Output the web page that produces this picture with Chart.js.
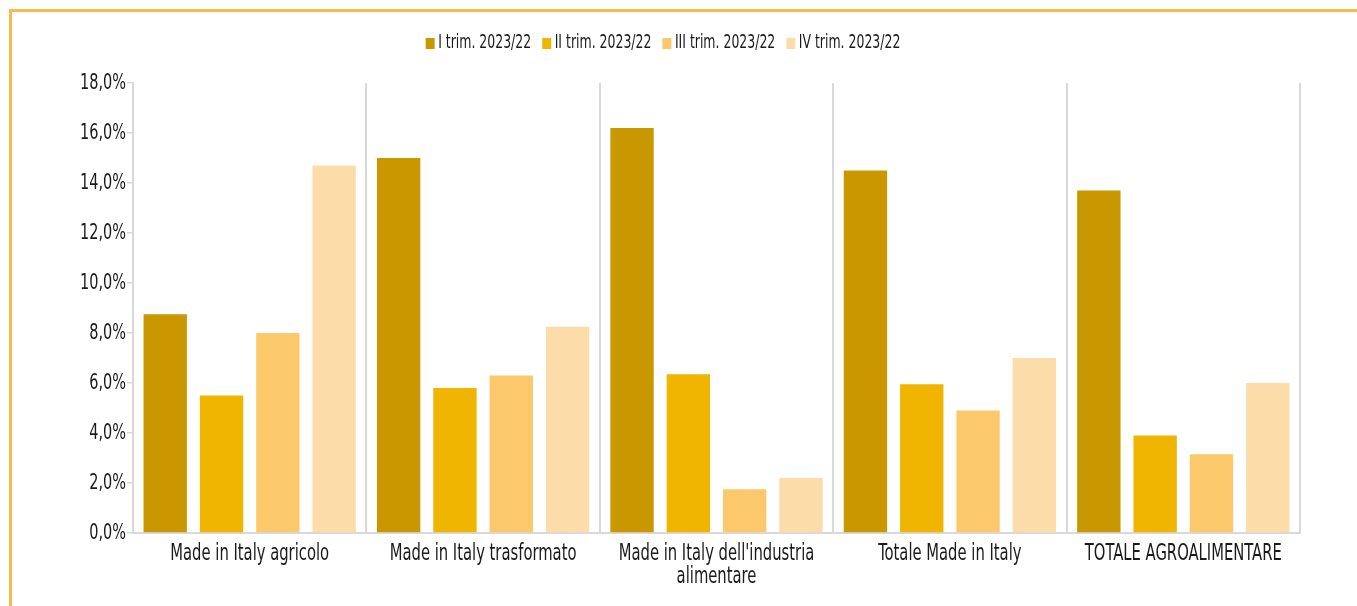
<!DOCTYPE html>
<html>
<head>
<meta charset="utf-8">
<script src="https://cdn.jsdelivr.net/npm/chart.js@4"></script>
<style>
  html, body { margin: 0; padding: 0; background: #fff; }
  #frame {
    position: absolute; left: 9px; top: 9px; right: -10px; bottom: -10px;
    border-top: 3px solid #F2BC4E; border-left: 3px solid #F2BC4E;
  }
  #wrap { position: absolute; left: 0; top: 0; width: 1357px; height: 606px; }
</style>
</head>
<body>
<div id="frame"></div>
<div id="wrap"><canvas id="chart"></canvas></div>
<script>
const categories = [
    'Made in Italy agricolo',
    'Made in Italy trasformato',
    ["Made in Italy dell'industria", 'alimentare'],
    'Totale Made in Italy',
    'TOTALE AGROALIMENTARE'
];
const seriesNames = ['I trim. 2023/22', 'II trim. 2023/22', 'III trim. 2023/22', 'IV trim. 2023/22'];
const trim1 = [8.75, 15.0, 16.2, 14.5, 13.7];
const trim2 = [5.5, 5.8, 6.35, 5.95, 3.9];
const trim3 = [8.0, 6.3, 1.75, 4.9, 3.15];
const trim4 = [14.7, 8.25, 2.2, 7.0, 6.0];
const yTicks = [0, 2, 4, 6, 8, 10, 12, 14, 16, 18];

const colors = ['#C99700', '#EFB500', '#FBC96B', '#FCDDA9'];
const FONT = "'DejaVu Sans Condensed', 'DejaVu Sans', sans-serif";
const STYLE = 'condensed';

const ctx = document.getElementById('chart').getContext('2d');

// the original uses a very narrow typeface: squeeze text horizontally
const SQUEEZE = 0.73;
const proto = CanvasRenderingContext2D.prototype;
ctx.fillText = function (text, x, y) {
    // legend text sits close to its colour box
    if (this.textAlign === 'left') x -= 6;
    this.save();
    this.translate(x, y);
    this.scale(SQUEEZE, 1);
    proto.fillText.call(this, text, 0, 0);
    this.restore();
};
ctx.measureText = function (text) {
    const m = proto.measureText.call(this, text);
    return {
        width: m.width * SQUEEZE,
        actualBoundingBoxAscent: m.actualBoundingBoxAscent,
        actualBoundingBoxDescent: m.actualBoundingBoxDescent
    };
};

const legendPlace = {
    id: 'legendPlace',
    afterInit(chart) {
        // extra room under the legend, so the plot starts lower
        const fit = chart.legend.fit;
        chart.legend.fit = function () { fit.call(this); this.height += 20; };
    },
    afterLayout(chart) {
        chart.legend.left += 16;
        chart.legend.right += 16;
    }
};

new Chart(ctx, {
    type: 'bar',
    data: {
        labels: categories,
        datasets: [trim1, trim2, trim3, trim4].map((d, i) => ({
            label: seriesNames[i],
            data: d,
            backgroundColor: colors[i],
            borderWidth: 0,
            categoryPercentage: 0.965,
            barPercentage: 0.77
        }))
    },
    plugins: [legendPlace],
    options: {
        responsive: true,
        maintainAspectRatio: false,
        animation: false,
        layout: { padding: { left: 0, right: 57, top: 29, bottom: 0 } },
        plugins: {
            legend: {
                display: true,
                position: 'top',
                labels: {
                    color: '#1a1a1a',
                    font: { family: FONT, size: 19, style: STYLE },
                    boxWidth: 9,
                    boxHeight: 11,
                    padding: 5
                }
            },
            tooltip: { enabled: false }
        },
        scales: {
            y: {
                min: 0,
                max: 18,
                afterBuildTicks: (scale) => { scale.ticks = yTicks.map(v => ({ value: v })); },
                afterFit: (scale) => { scale.width = 133; },
                grid: { color: 'transparent', tickColor: '#d9d9d9', tickLength: 6, lineWidth: 1.5 },
                border: { display: true, color: '#d9d9d9', width: 2 },
                ticks: {
                    color: '#1a1a1a',
                    font: { family: FONT, size: 22, style: STYLE },
                    padding: 1,
                    callback: (v) => v.toFixed(1).replace('.', ',') + '%'
                }
            },
            x: {
                afterFit: (scale) => { scale.height = 73; },
                grid: { color: '#d9d9d9', lineWidth: 2, drawTicks: false, offset: true },
                border: { display: true, color: '#d9d9d9', width: 2 },
                ticks: {
                    color: '#1a1a1a',
                    font: { family: FONT, size: 22.5, style: STYLE, lineHeight: 1.0 },
                    padding: 10,
                    maxRotation: 0,
                    autoSkip: false
                }
            }
        }
    }
});
</script>
</body>
</html>
